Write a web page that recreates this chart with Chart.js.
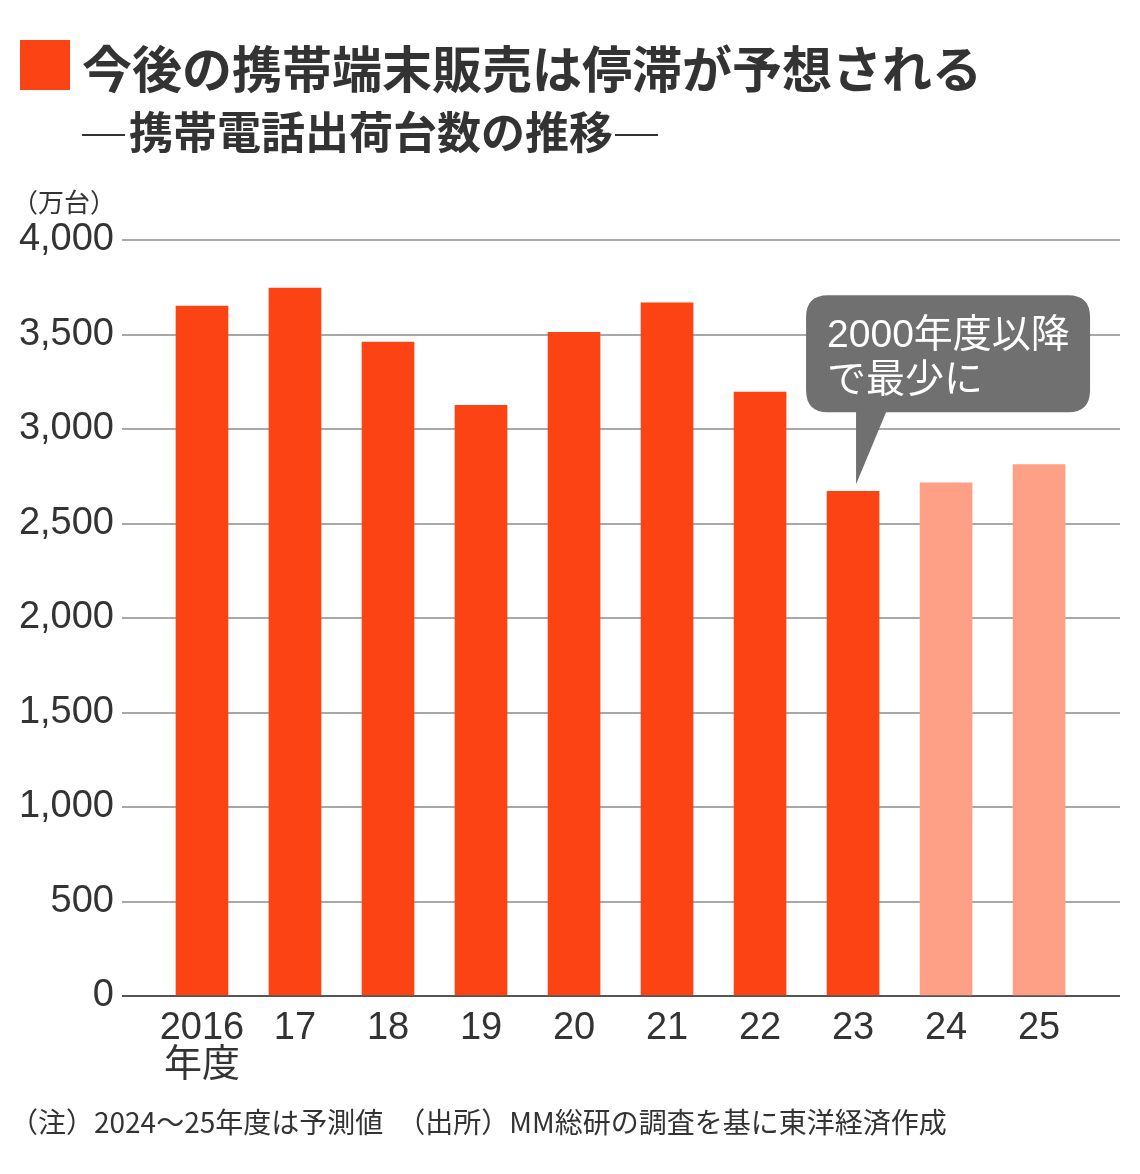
<!DOCTYPE html>
<html><head><meta charset="utf-8">
<script src="https://cdn.jsdelivr.net/npm/chart.js@4"></script>
<style>
html,body{margin:0;padding:0;background:#fff;}
body{width:1140px;height:1174px;position:relative;overflow:hidden;font-family:"Liberation Sans","Noto Sans CJK JP",sans-serif;color:#333;}
#c{position:absolute;left:0;top:0;}
.sq{position:absolute;left:20px;top:40px;width:50px;height:50px;background:#fc4314;}
.t1{position:absolute;left:82px;top:36px;font-family:"Noto Sans CJK JP",sans-serif;font-weight:700;font-size:50px;line-height:60px;white-space:nowrap;}
.t2{position:absolute;left:82px;top:104px;font-family:"Noto Sans CJK JP",sans-serif;font-weight:700;font-size:44px;line-height:52px;white-space:nowrap;}
.dash{display:inline-block;width:43px;height:2px;background:#333;vertical-align:middle;margin:0 4px 0 0;position:relative;top:-2px;}
.dash.r{margin:0 0 0 2px;}
.unit{position:absolute;left:12px;top:184px;font-family:"Noto Sans CJK JP",sans-serif;font-size:26px;line-height:34px;white-space:nowrap;}
.note{position:absolute;left:10px;top:1102px;font-family:"Noto Sans CJK JP",sans-serif;font-size:28px;line-height:38px;white-space:nowrap;}
</style></head>
<body>
<canvas id="c" width="1140" height="1174"></canvas>
<div class="sq"></div>
<div class="t1">今後の携帯端末販売は停滞が予想される</div>
<div class="t2"><span class="dash"></span>携帯電話出荷台数の推移<span class="dash r"></span></div>
<div class="unit">（万台）</div>
<div class="note">（注）2024～25年度は予測値　（出所）MM総研の調査を基に東洋経済作成</div>
<script>
const categories = ['2016', '17', '18', '19', '20', '21', '22', '23', '24', '25'];
const firstSuffix = '年度';
const shipments = [3650, 3745, 3460, 3125, 3512, 3667, 3195, 2670, 2715, 2812];
const isForecast = [false, false, false, false, false, false, false, false, true, true];
const yTicks = [0, 500, 1000, 1500, 2000, 2500, 3000, 3500, 4000];
const calloutLines = ['2000年度以降', 'で最少に'];
const calloutIndex = 7;

const COL_ACT = '#fc4314', COL_FC = '#fda086';

const calloutPlugin = {
  id: 'callout',
  afterDatasetsDraw(chart) {
    const el = chart.getDatasetMeta(0).data[calloutIndex];
    if (!el) return;
    const ctx = chart.ctx;
    const tipX = el.x + 3, tipY = el.y - 7;
    const bx = el.x - 47, by = el.y - 196, bw = 284, bh = 117, r = 22;
    ctx.save();
    ctx.fillStyle = '#707070';
    ctx.beginPath();
    ctx.moveTo(bx + r, by);
    ctx.lineTo(bx + bw - r, by);
    ctx.quadraticCurveTo(bx + bw, by, bx + bw, by + r);
    ctx.lineTo(bx + bw, by + bh - r);
    ctx.quadraticCurveTo(bx + bw, by + bh, bx + bw - r, by + bh);
    ctx.lineTo(tipX + 30, by + bh);
    ctx.lineTo(tipX, tipY);
    ctx.lineTo(tipX, by + bh);
    ctx.lineTo(bx + r, by + bh);
    ctx.quadraticCurveTo(bx, by + bh, bx, by + bh - r);
    ctx.lineTo(bx, by + r);
    ctx.quadraticCurveTo(bx, by, bx + r, by);
    ctx.closePath();
    ctx.fill();
    ctx.fillStyle = '#fff';
    ctx.font = '39px "Liberation Sans","Noto Sans CJK JP",sans-serif';
    ctx.textBaseline = 'alphabetic';
    ctx.textAlign = 'left';
    calloutLines.forEach((s, i) => ctx.fillText(s, bx + 21, by + 52 + i * 45));
    ctx.restore();
  }
};

new Chart(document.getElementById('c'), {
  type: 'bar',
  data: {
    datasets: [{
      data: categories.map((c, i) => ({ x: i, y: shipments[i] })),
      backgroundColor: isForecast.map(f => f ? COL_FC : COL_ACT),
      barThickness: 52,
      borderWidth: 0
    }]
  },
  options: {
    responsive: false,
    animation: false,
    devicePixelRatio: 1,
    layout: { padding: { top: 240, right: 20, left: 0, bottom: 0 } },
    plugins: { legend: { display: false }, tooltip: { enabled: false }, title: { display: false } },
    scales: {
      x: {
        type: 'linear',
        offset: false,
        min: -0.86,
        max: 9.87,
        grid: { display: false, drawTicks: false, offset: false },
        border: { display: false },
        afterBuildTicks: (axis) => { axis.ticks = categories.map((c, i) => ({ value: i })); },
        afterFit: (axis) => { axis.height = 178; },
        ticks: {
          autoSkip: false,
          maxRotation: 0,
          padding: 14,
          color: '#333',
          font: { family: '"Liberation Sans","Noto Sans CJK JP",sans-serif', size: 38, lineHeight: 0.98 },
          callback: (v) => { const i = Math.round(v); return i === 0 ? [categories[0], firstSuffix] : categories[i]; }
        }
      },
      y: {
        min: 0,
        max: 4000,
        afterBuildTicks: (axis) => { axis.ticks = yTicks.map(v => ({ value: v })); },
        afterFit: (axis) => { axis.width = 122; },
        grid: {
          drawTicks: false,
          lineWidth: 2,
          color: (c) => c.tick && c.tick.value === 0 ? '#555' : '#a8a8a8'
        },
        border: { display: false },
        ticks: {
          padding: 8,
          color: '#333',
          font: { family: '"Liberation Sans","Noto Sans CJK JP",sans-serif', size: 38 },
          callback: (v) => v.toLocaleString('en-US')
        }
      }
    }
  },
  plugins: [calloutPlugin]
});
</script>
</body></html>
